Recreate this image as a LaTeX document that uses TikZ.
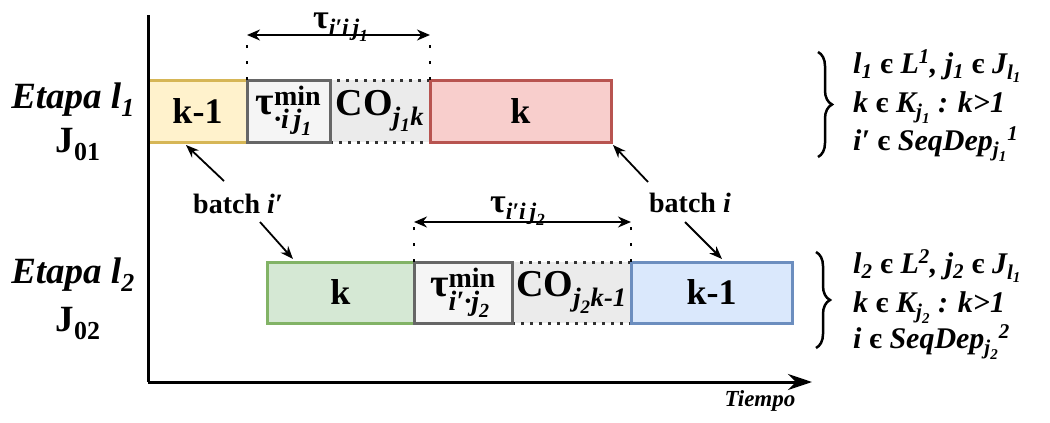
\documentclass[tikz,border=0pt]{standalone}
\usepackage{fontspec}
\usepackage{amsmath}
\setmainfont{Liberation Serif}
\usetikzlibrary{arrows.meta,decorations.pathreplacing,calc}

\definecolor{yelF}{HTML}{FFF2CC}\definecolor{yelD}{HTML}{D6B656}
\definecolor{redF}{HTML}{F8CECC}\definecolor{redD}{HTML}{B85450}
\definecolor{grnF}{HTML}{D5E8D4}\definecolor{grnD}{HTML}{82B366}
\definecolor{bluF}{HTML}{DAE8FC}\definecolor{bluD}{HTML}{6C8EBF}
\definecolor{gryF}{HTML}{F5F5F5}\definecolor{gryD}{HTML}{666666}
\definecolor{coF}{HTML}{EBEBEB}

% small element sign
\newcommand{\isin}{{\upshape є}}
\newcommand{\tx}[1]{\text{#1}}

\tikzset{
  box/.style={draw, line width=3pt, outer sep=0pt, inner sep=0pt,
              font=\fontsize{36}{38}\selectfont\bfseries},
  taubox/.style={box, fill=gryF, draw=gryD, font=\fontsize{40}{42}\selectfont\bfseries},
  cobox/.style={box, fill=coF, draw=black!80, dash pattern=on 3pt off 6pt,
                font=\fontsize{38}{40}\selectfont\bfseries},
  lbl/.style={inner sep=0pt, anchor=base, font=\fontsize{37}{39}\selectfont\bfseries},
  taulbl/.style={inner sep=0pt, anchor=base, font=\fontsize{34}{36}\selectfont\bfseries},
  batchlbl/.style={inner sep=0pt, anchor=base, font=\fontsize{28}{30}\selectfont\bfseries},
  cond/.style={inner sep=0pt, anchor=base west, font=\fontsize{30}{32}\selectfont\bfseries\itshape},
  dimline/.style={line width=2.5pt, dash pattern=on 3pt off 13pt},
  dimarrow/.style={line width=1.8pt, {Stealth[length=13pt,width=11pt]}-{Stealth[length=13pt,width=11pt]}},
  ptr/.style={line width=1.8pt, -{Stealth[length=13pt,width=10pt]}},
  axis/.style={line width=3pt},
}

\begin{document}
\begin{tikzpicture}[x=1pt,y=-1pt]
\useasboundingbox (0,0) rectangle (1050,423);

% stage 1 bar
\node[box, fill=yelF, draw=yelD, minimum width=99pt, minimum height=62pt] (kA) at (197.5,111) {k-1};
\node[cobox, minimum width=100pt, minimum height=62pt] (cA) at (380,111) {CO$_{\tx{\itshape j}_{\tx{\itshape 1}}\tx{\itshape k}}$};
\node[box, fill=redF, draw=redD, minimum width=181pt, minimum height=62pt] (rA) at (520.5,111) {k};
\node[taubox, minimum width=83pt, minimum height=62pt] (tA) at (288.5,111)
  {τ$^{\tx{min}}_{\tx{\itshape ·i\,j}_{\tx{\itshape 1}}}$};

% stage 2 bar
\node[box, fill=grnF, draw=grnD, minimum width=147pt, minimum height=61pt] (gB) at (340.5,292.5) {k};
\node[cobox, minimum width=119pt, minimum height=61pt] (cB) at (571.5,292.5) {CO$_{\tx{\itshape j}_{\tx{\itshape 2}}\tx{\itshape k-1}}$};
\node[box, fill=bluF, draw=bluD, minimum width=161pt, minimum height=61pt] (bB) at (711.5,292.5) {k-1};
\node[taubox, minimum width=98pt, minimum height=61pt] (tB) at (463,292.5)
  {τ$^{\tx{min}}_{\tx{\itshape i′·j}_{\tx{\itshape 2}}}$};

% axes
\draw[axis] (148,15) coordinate (ytop) -- (148,382) coordinate (orig);
\draw[axis, -{Stealth[length=24pt,width=16pt]}] (orig) -- (812,382) coordinate (xend);
\node[inner sep=0pt, anchor=base, font=\fontsize{23}{25}\selectfont\bfseries\itshape] (tiempo) at (760,406) {Tiempo};

% stage labels
\node[lbl] (et1) at (73,108) {\itshape Etapa l$_{\tx{1}}$};
\node[lbl] (j01) at (78,152) {J$_{\tx{01}}$};
\node[lbl] (et2) at (73,283) {\itshape Etapa l$_{\tx{2}}$};
\node[lbl] (j02) at (78,331) {J$_{\tx{02}}$};

% interval between batches, stage 1
\draw[dimline] (tA.north west) -- ++(0,-45) coordinate (d1);
\draw[dimline] (cA.north east) -- ++(0,-45) coordinate (d2);
\draw[dimarrow] (d1) -- (d2);
\node[taulbl] (tau1) at (341,28) {τ$_{\tx{\itshape i′i\,j}_{\tx{\itshape 1}}}$};

% interval between batches, stage 2
\draw[dimline] (tB.north west) -- ++(0,-40) coordinate (e1);
\draw[dimline] (cB.north east) -- ++(0,-40) coordinate (e2);
\draw[dimarrow] (e1) -- (e2);
\node[taulbl] (tau2) at (518,212) {τ$_{\tx{\itshape i′i\,j}_{\tx{\itshape 2}}}$};

% batch pointers
\node[batchlbl] (bip) at (238,213) {batch \textit{i′}};
\node[batchlbl] (bi) at (690,212) {batch \textit{i}};
\coordinate (p1) at (224,181);
\coordinate (p2) at (260,222);
\coordinate (p3) at (648,182);
\coordinate (p4) at (685,222);
\draw[ptr] (p1) -- ($(kA.south west)+(38,3)$);
\draw[ptr] (p2) -- ($(gB.north west)+(26,-3)$);
\draw[ptr] (p3) -- ($(rA.south east)+(2,3)$);
\draw[ptr] (p4) -- ($(bB.north west)+(91,-3)$);

% index conditions
\draw[line width=2.5pt, decorate, decoration={brace, amplitude=14pt}] (818,52) coordinate (br1a) -- (818,157) coordinate (br1b);
\draw[line width=2.5pt, decorate, decoration={brace, amplitude=14pt}] (816,252) coordinate (br2a) -- (816,348) coordinate (br2b);

\node[cond] (c11) at (853,73) {l$_{\tx{1}}$ \isin{} L$^{\tx{1}}$, j$_{\tx{1}}$ \isin{} J$_{\tx{l}_{\tx{1}}}$};
\node[cond] (c12) at (853,112) {k \isin{} K$_{\tx{j}_{\tx{1}}}$ : k>1};
\node[cond] (c13) at (853,150) {i′ \isin{} SeqDep$_{\tx{j}_{\tx{1}}}$$^{\tx{1}}$};
\node[cond] (c21) at (853,273) {l$_{\tx{2}}$ \isin{} L$^{\tx{2}}$, j$_{\tx{2}}$ \isin{} J$_{\tx{l}_{\tx{1}}}$};
\node[cond] (c22) at (853,312) {k \isin{} K$_{\tx{j}_{\tx{2}}}$ : k>1};
\node[cond] (c23) at (853,348) {i \isin{} SeqDep$_{\tx{j}_{\tx{2}}}$$^{\tx{2}}$};
\end{tikzpicture}
\end{document}
